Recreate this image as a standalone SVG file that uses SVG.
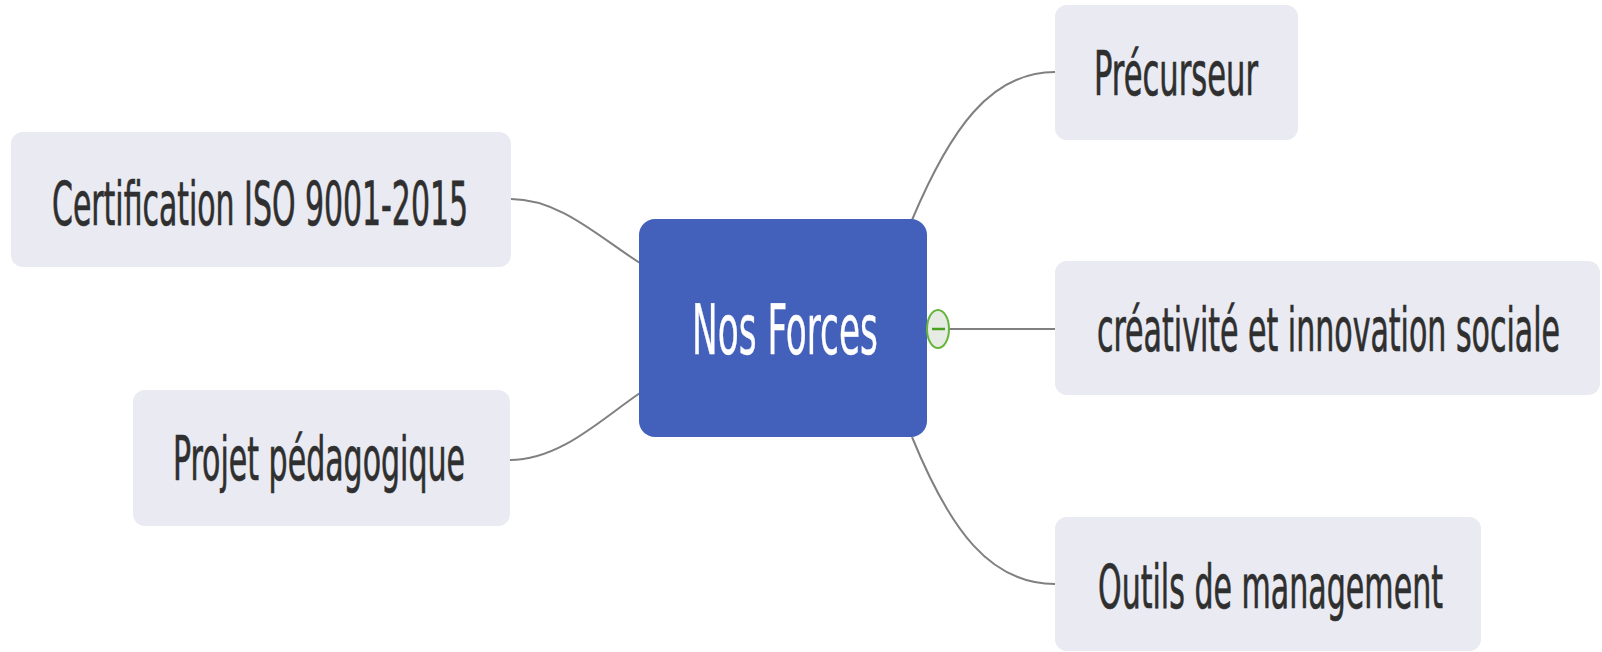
<svg xmlns="http://www.w3.org/2000/svg" width="1602" height="652" viewBox="0 0 1602 652">
<style>
.node{fill:#E9EAF2}
.lbl{font-family:"DejaVu Sans Condensed","DejaVu Sans",sans-serif;font-size:60px;fill:#2f2f2f;stroke:#2f2f2f;stroke-width:0.7px}
.conn{fill:none;stroke:#808080;stroke-width:2}
</style>
<rect width="1602" height="652" fill="#ffffff"/>
<g id="connectors">
<path class="conn" d="M511,199 C560,199 600,238 640,263"/>
<path class="conn" d="M510,460 C560,460 600,420 640,393"/>
<path class="conn" d="M912,220 C950,130 990,72 1055,72"/>
<path class="conn" d="M912,437 C950,530 990,584 1055,584"/>
<path class="conn" d="M948,329 L1055,329"/>
</g>
<g id="center">
<rect x="639" y="219" width="288" height="218" rx="16" fill="#4360BB"/>
<text x="692" y="354" font-family="'DejaVu Sans Condensed','DejaVu Sans',sans-serif" font-size="70" fill="#ffffff" stroke="#ffffff" stroke-width="0.4" textLength="186" lengthAdjust="spacingAndGlyphs">Nos Forces</text>
</g>
<g id="toggle">
<ellipse cx="938" cy="329" rx="11" ry="19" fill="#e6ece4" stroke="#66b43c" stroke-width="2"/>
<line x1="932" y1="329" x2="945" y2="329" stroke="#4aa020" stroke-width="2.5"/>
</g>
<g id="n-precurseur">
<rect class="node" x="1055" y="5" width="243" height="135" rx="12"/>
<text class="lbl" x="1094" y="95" textLength="164" lengthAdjust="spacingAndGlyphs">Précurseur</text>
</g>
<g id="n-certification">
<rect class="node" x="11" y="132" width="500" height="135" rx="12"/>
<text class="lbl" x="52" y="225" textLength="416" lengthAdjust="spacingAndGlyphs">Certification ISO 9001-2015</text>
</g>
<g id="n-creativite">
<rect class="node" x="1055" y="261" width="545" height="134" rx="12"/>
<text class="lbl" x="1097" y="351" textLength="463" lengthAdjust="spacingAndGlyphs">créativité et innovation sociale</text>
</g>
<g id="n-projet">
<rect class="node" x="133" y="390" width="377" height="136" rx="12"/>
<text class="lbl" x="173" y="480" textLength="292" lengthAdjust="spacingAndGlyphs">Projet pédagogique</text>
</g>
<g id="n-outils">
<rect class="node" x="1055" y="517" width="426" height="134" rx="12"/>
<text class="lbl" x="1098" y="608" textLength="345" lengthAdjust="spacingAndGlyphs">Outils de management</text>
</g>
</svg>
